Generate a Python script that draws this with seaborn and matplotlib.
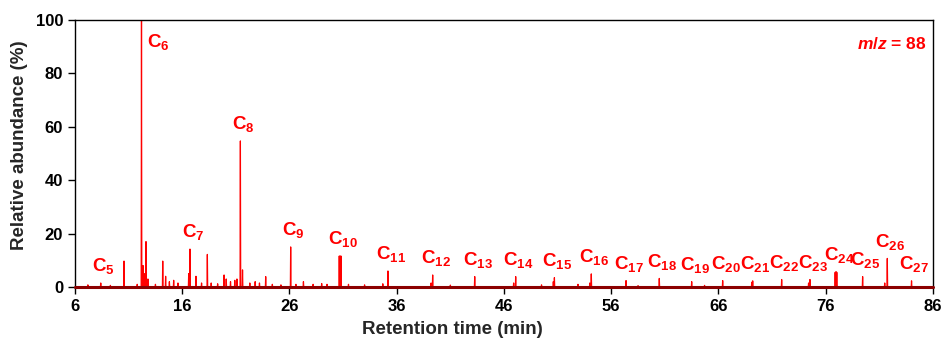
import matplotlib
matplotlib.use("Agg")
import matplotlib.pyplot as plt
import seaborn as sns
import numpy as np
import pandas as pd

# n-alkane peaks (carbon number, retention time in min, relative abundance in %)
carbon_num = [5, 6, 7, 8, 9, 10, 11, 12, 13, 14, 15, 16,
              17, 18, 19, 20, 21, 22, 23, 24, 25, 26, 27]
carbon_rt = [8.4, 12.2, 16.72, 21.42, 26.11, 30.72, 35.18, 39.35, 43.27, 47.09, 50.7, 54.14,
             57.38, 60.48, 63.5, 66.39, 69.19, 71.89, 74.53, 76.96, 79.44, 81.74, 84.0]
carbon_abund = [1.5, 100, 14.2, 54.7, 15.0, 11.6, 6.0, 4.5, 3.9, 3.9, 3.5, 4.9,
                2.4, 3.2, 2.0, 2.4, 2.3, 2.8, 2.8, 5.7, 3.9, 10.7, 2.3]

# other (unlabelled) peaks
other_rt = [7.2, 9.3, 10.57, 11.8, 12.35, 12.45, 12.62, 12.8, 13.5, 14.18, 14.45, 14.8,
            15.2, 15.6, 16.6, 17.28, 17.8, 18.34, 18.7, 19.3, 19.9, 20.1, 20.5, 20.9,
            21.1, 21.62, 22.3, 22.8, 23.2, 23.78, 24.4, 25.2, 26.6, 27.3, 28.2, 29.0,
            29.5, 30.64, 30.8, 31.5, 33.0, 34.7, 39.2, 41.0, 46.9, 49.5, 50.6, 52.9,
            54.0, 58.5, 64.7, 69.1, 74.4, 76.88, 77.03, 81.5]
other_abund = [0.8, 0.6, 9.7, 1.0, 8.0, 5.0, 17.0, 3.0, 1.0, 9.7, 4.0, 2.0,
               2.5, 1.5, 5.0, 4.0, 1.5, 12.2, 1.5, 1.2, 4.5, 3.0, 2.0, 2.5,
               3.0, 6.4, 1.5, 2.0, 1.5, 3.9, 1.0, 0.8, 1.0, 2.0, 1.0, 1.3,
               1.0, 11.6, 11.6, 1.0, 0.8, 1.2, 1.5, 0.7, 1.5, 0.8, 2.0, 1.0,
               1.5, 0.5, 0.6, 1.8, 1.5, 5.5, 5.5, 1.5]

x_ticks = [6, 16, 26, 36, 46, 56, 66, 76, 86]

# build a stick-style trace from the peak lists
peaks = sorted(zip(carbon_rt + other_rt, carbon_abund + other_abund))
half = 0.03
trace_t, trace_y = [6.0], [0.0]
for t, h in peaks:
    trace_t += [t - half, t, t + half]
    trace_y += [0.0, h, 0.0]
trace_t.append(86.0)
trace_y.append(0.0)
df = pd.DataFrame({"time": trace_t, "abundance": trace_y})

sns.set_style("ticks")
plt.rcParams["font.family"] = ["Liberation Sans", "DejaVu Sans"]
plt.rcParams["mathtext.fontset"] = "custom"
plt.rcParams["mathtext.rm"] = "Liberation Sans:bold"
plt.rcParams["mathtext.bf"] = "Liberation Sans:bold"
plt.rcParams["mathtext.it"] = "Liberation Sans:bold:italic"

fig = plt.figure(figsize=(9.47, 3.41), dpi=100)
ax = fig.add_axes([0.0792, 0.1584, 0.9060, 0.7829])

sns.lineplot(data=df, x="time", y="abundance", sort=False, estimator=None,
             color="#ff0000", linewidth=0.9, ax=ax)
ax.axhline(0, color="#8b0000", linewidth=2.2, clip_on=False, zorder=3)

# carbon number labels
for n, t, h in zip(carbon_num, carbon_rt, carbon_abund):
    label = r"$\mathbf{C_{%d}}$" % n
    if h >= 90:
        ax.annotate(label, (t, h), xytext=(12, -16), textcoords="offset points",
                    ha="center", va="center", color="#ff0000", fontsize=13.5)
    else:
        ax.annotate(label, (t, h), xytext=(2, 12), textcoords="offset points",
                    ha="center", va="center", color="#ff0000", fontsize=13.5)

ax.text(0.993, 0.91, r"$m/z$ = 88", transform=ax.transAxes, ha="right", va="center",
        color="#ff0000", fontsize=12.5, fontweight="bold")

ax.set_xlim(6, 86)
ax.set_ylim(0, 100)
ax.set_xticks(x_ticks)
ax.set_yticks([0, 20, 40, 60, 80, 100])
ax.tick_params(axis="both", direction="out", length=5, width=1, labelsize=12, colors="black")
for lab in ax.get_xticklabels() + ax.get_yticklabels():
    lab.set_fontweight("bold")
for sp in ax.spines.values():
    sp.set_visible(True)
    sp.set_color("black")
    sp.set_linewidth(1)

ax.set_xlabel("Retention time (min)", fontsize=13.5, fontweight="bold")
ax.set_ylabel("Relative abundance (%)", fontsize=13.5, fontweight="bold")
ax.xaxis.set_label_coords(0.44, -0.127)
ax.yaxis.set_label_coords(-0.055, 0.53)

fig.savefig("out.png", dpi=100)
